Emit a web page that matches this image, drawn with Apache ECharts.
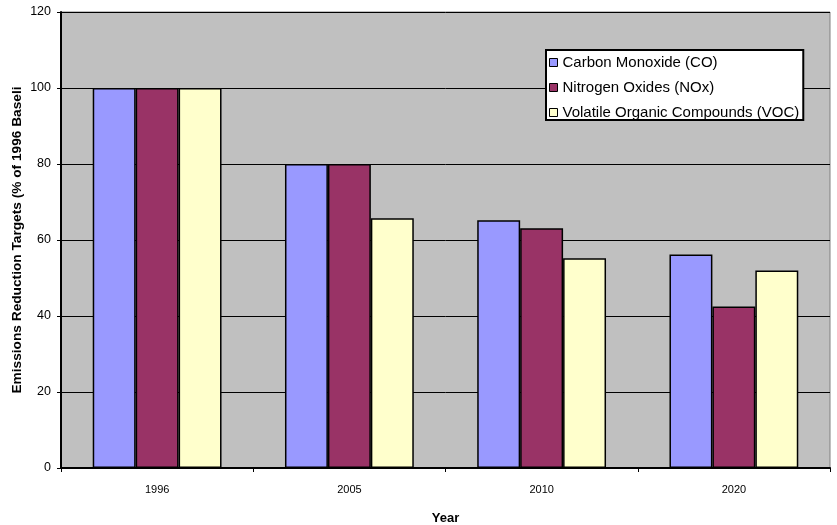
<!DOCTYPE html>
<html>
<head>
<meta charset="utf-8">
<script src="https://cdn.jsdelivr.net/npm/echarts@6/dist/echarts.min.js"></script>
<style>
  html, body { margin: 0; padding: 0; background: #fff; }
  #chart { width: 837px; height: 525px; }
</style>
</head>
<body>
<div id="chart"></div>
<script>
// Emission reduction targets by year, as % of the 1996 baseline
const years = ['1996', '2005', '2010', '2020'];
const carbonMonoxide = [100, 80, 65.2, 56.2];
const nitrogenOxides = [100, 80, 63.1, 42.5];
const volatileOrganics = [100, 65.7, 55.2, 52.0];
const seriesNames = ['Carbon Monoxide (CO)', 'Nitrogen Oxides (NOx)', 'Volatile Organic Compounds (VOC)'];
const seriesColors = ['#9999FF', '#993366', '#FFFFCC'];

const chart = echarts.init(document.getElementById('chart'));
const font = 'Liberation Sans, Arial, sans-serif';

const barSeries = [carbonMonoxide, nitrogenOxides, volatileOrganics].map((vals, i) => ({
  name: seriesNames[i],
  type: 'bar',
  data: vals,
  barGap: '0%',
  barCategoryGap: '33%',
  itemStyle: { color: seriesColors[i], borderColor: '#000', borderWidth: 1.5 }
}));

chart.setOption({
  animation: false,
  textStyle: { fontFamily: font },
  grid: {
    left: 61, right: 7, top: 12, bottom: 57,
    containLabel: false,
    outerBoundsMode: 'none',
    show: true, backgroundColor: '#C0C0C0', borderColor: '#808080', borderWidth: 1
  },
  legend: {
    orient: 'vertical',
    left: 546, top: 50,
    backgroundColor: '#fff',
    borderColor: '#000', borderWidth: 2,
    padding: [5, 4, 0, 3],
    itemGap: 10,
    itemWidth: 8, itemHeight: 8,
    icon: 'rect',
    textStyle: { fontSize: 15, lineHeight: 15, color: '#000', fontFamily: font },
    itemStyle: { borderColor: '#000', borderWidth: 1 },
    data: seriesNames
  },
  xAxis: {
    type: 'category',
    data: years,
    name: 'Year',
    nameLocation: 'middle',
    nameGap: 44,
    nameMoveOverlap: false,
    nameTextStyle: { fontSize: 13, fontWeight: 'bold', color: '#000' },
    axisLine: { lineStyle: { color: '#000', width: 2 } },
    axisTick: { show: true, length: 4, lineStyle: { color: '#000' } },
    axisLabel: { fontSize: 11, color: '#000', margin: 16 }
  },
  yAxis: {
    type: 'value',
    min: 0, max: 120, interval: 20,
    name: 'Emissions Reduction Targets (% of 1996 Baseli',
    nameLocation: 'middle',
    nameGap: 37,
    nameMoveOverlap: false,
    nameTextStyle: { fontSize: 13.7, fontWeight: 'bold', color: '#000' },
    axisLine: { show: true, lineStyle: { color: '#000', width: 2 } },
    axisTick: { show: true, length: 4, lineStyle: { color: '#000' } },
    axisLabel: { fontSize: 12.5, color: '#000', margin: 10 },
    splitLine: { lineStyle: { color: '#000', width: 1 } }
  },
  series: barSeries
});
</script>
</body>
</html>
